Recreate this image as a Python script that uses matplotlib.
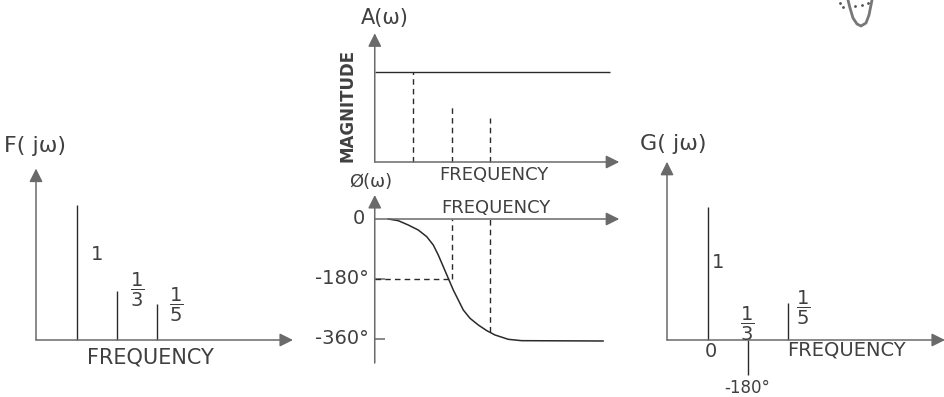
import matplotlib
matplotlib.use('Agg')
import matplotlib.pyplot as plt
import numpy as np

W, H = 944, 397

# input spectrum F(jw): harmonics and amplitudes
harmonics = [1, 3, 5]
f_amp = [1.0, 0.36, 0.27]
f_labels = ['1', r'$\dfrac{1}{3}$', r'$\dfrac{1}{5}$']

# filter magnitude A(w): flat gain, dashed markers at the harmonics
a_gain = 1.0
a_marks = [1.0, 0.63, 0.49]

# filter phase: curve (harmonic units, degrees)
phase_x = [-0.30, 0.22, 0.74, 1.26, 1.70, 2.04, 2.30, 2.56, 2.82, 3.08, 3.34,
           3.60, 3.95, 4.38, 4.82, 5.25, 5.94, 6.63, 10.86]
phase_y = [0, -5, -18, -33, -53, -78, -108, -143, -178, -213, -243,
           -273, -298, -318, -335, -348, -361, -365, -366]
phase_marks = [-180, -339]

# output spectrum G(jw)
g_amp = [1.0, -0.26, 0.28]
g_phase_labels = ['0', '-180°']

# stray sketch in the top-right corner (pixel units of the scan)
sketch_x = [848, 850, 853, 857, 861, 866, 869, 871, 872]
sketch_y = [0, 8, 18, 24, 26, 23, 15, 5, 0]
dots_x = [840, 843, 855, 862, 868]
dots_y = [3, 7, 6, 5, 3]

AX = '#6a6a6a'
INK = '#2a2a2a'
TXT = '#404040'
FONT = 'DejaVu Sans'

fig = plt.figure(figsize=(W / 100, H / 100), dpi=100)


def panel(ox, oy, sx, sy, xlim, ylim):
    x0 = ox + xlim[0] * sx
    x1 = ox + xlim[1] * sx
    ytop = oy - ylim[1] * sy
    ybot = oy - ylim[0] * sy
    ax = fig.add_axes([x0 / W, 1 - ybot / H, (x1 - x0) / W, (ybot - ytop) / H])
    ax.set_xlim(xlim)
    ax.set_ylim(ylim)
    ax.axis('off')
    return ax


def arrow(ax, start, end):
    ax.annotate('', xy=end, xytext=start,
                arrowprops=dict(arrowstyle='-|>', color=AX, lw=1.1,
                                mutation_scale=20, shrinkA=0, shrinkB=0))


def txt(ax, x, y, s, size=13, **kw):
    kw.setdefault('ha', 'center')
    kw.setdefault('va', 'center')
    ax.text(x, y, s, fontsize=size, color=TXT, family=FONT, **kw)


# ---- F(jw)
ax1 = panel(57, 340, 20, 135, (-1.05, 12), (-0.4, 1.35))
arrow(ax1, (-1.05, 0), (11.8, 0))
arrow(ax1, (-1.05, 0), (-1.05, 1.27))
ax1.vlines(harmonics, 0, f_amp, color=INK, lw=1)
txt(ax1, 2.0, 0.63, f_labels[0], size=14)
txt(ax1, 4.0, 0.37, f_labels[1], size=14)
txt(ax1, 5.95, 0.26, f_labels[2], size=14)
txt(ax1, -2.65, 1.44, 'F( jω)', size=16, ha='left')
txt(ax1, 4.65, -0.13, 'FREQUENCY', size=15)

# ---- A(w)
ax2 = panel(394, 162, 19.25, 90, (-1.0, 11.7), (-0.2, 1.45))
arrow(ax2, (-1.0, 0), (11.7, 0))
arrow(ax2, (-1.0, 0), (-1.0, 1.43))
ax2.hlines(a_gain, -1.0, 11.2, color=INK, lw=1)
ax2.vlines(harmonics, 0, a_marks, color=INK, lw=1, linestyles=(0, (4, 3)))
txt(ax2, -0.5, 1.6, 'A(ω)', size=15)
txt(ax2, -2.4, 0.63, 'MAGNITUDE', size=12, rotation=90, fontweight='bold')
txt(ax2, 5.2, -0.14, 'FREQUENCY', size=13)
txt(ax2, -1.2, -0.22, 'Ø(ω)', size=13)

# ---- phase
ax3 = panel(394, 219, 19.25, 1 / 3, (-1.0, 11.7), (-440, 80))
arrow(ax3, (-1.0, 0), (11.7, 0))
arrow(ax3, (-1.0, -432), (-1.0, 72))
ax3.hlines([-180, -360], -1.0, -0.48, color=AX, lw=1.1)
ax3.plot(phase_x, phase_y, color=INK, lw=1.1)
ax3.hlines(-180, -1.0, 3, color=INK, lw=1, linestyles=(0, (4, 3)))
ax3.vlines([3, 5], phase_marks, 0, color=INK, lw=1, linestyles=(0, (4, 3)))
txt(ax3, -1.5, 0, '0', size=14, ha='right')
txt(ax3, -1.3, -180, '-180°', size=14, ha='right')
txt(ax3, -1.3, -360, '-360°', size=14, ha='right')
txt(ax3, 5.3, 33, 'FREQUENCY', size=13)

# ---- G(jw)
ax4 = panel(688, 340, 20, 133, (-1.05, 12.9), (-0.45, 1.4))
arrow(ax4, (-1.05, 0), (12.85, 0))
arrow(ax4, (-1.05, 0), (-1.05, 1.34))
ax4.vlines(harmonics, 0, g_amp, color=INK, lw=1)
txt(ax4, 1.5, 0.58, '1', size=14)
txt(ax4, 2.95, 0.12, r'$\dfrac{1}{3}$', size=14)
txt(ax4, 5.75, 0.24, r'$\dfrac{1}{5}$', size=14)
txt(ax4, 1.15, -0.09, g_phase_labels[0], size=14)
txt(ax4, 2.95, -0.36, g_phase_labels[1], size=12)
txt(ax4, -2.4, 1.47, 'G( jω)', size=16, ha='left')
txt(ax4, 7.9, -0.075, 'FREQUENCY', size=14)

# ---- corner sketch
ax5 = fig.add_axes([830 / W, 1 - 30 / H, 60 / W, 30 / H])
ax5.set_xlim(830, 890)
ax5.set_ylim(30, 0)
ax5.axis('off')
ax5.plot(sketch_x, sketch_y, color='#777777', lw=2)
ax5.plot(dots_x, dots_y, ls='none', marker='.', ms=2, color='#555555')

fig.savefig('out.png', dpi=100)
